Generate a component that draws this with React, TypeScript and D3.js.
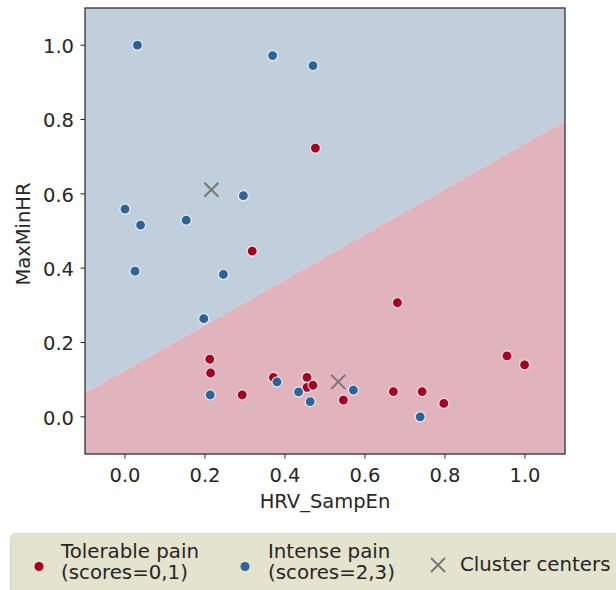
import React from "react";
import * as d3 from "d3";

// Tolerable pain (scores 0,1)
const TOLERABLE_X = [0.476, 0.318, 0.212, 0.214, 0.293, 0.371, 0.455, 0.455, 0.47, 0.546, 0.671, 0.743, 0.797, 0.681, 0.955, 0.999];
const TOLERABLE_Y = [0.723, 0.446, 0.155, 0.118, 0.059, 0.106, 0.106, 0.079, 0.085, 0.045, 0.068, 0.068, 0.036, 0.307, 0.164, 0.14];
// Intense pain (scores 2,3)
const INTENSE_X = [0.031, 0.369, 0.47, 0.296, 0.0, 0.039, 0.153, 0.025, 0.246, 0.197, 0.213, 0.38, 0.434, 0.463, 0.571, 0.738];
const INTENSE_Y = [1.0, 0.972, 0.945, 0.595, 0.559, 0.516, 0.529, 0.392, 0.383, 0.264, 0.059, 0.094, 0.067, 0.041, 0.072, 0.0];
// Cluster centers
const CENTER_X = [0.216, 0.533];
const CENTER_Y = [0.611, 0.094];
// Decision boundary endpoints (x, y) across the axis range
const BOUNDARY_X = [-0.1, 1.1];
const BOUNDARY_Y = [0.064, 0.796];

const X_TICKS = [0.0, 0.2, 0.4, 0.6, 0.8, 1.0];
const Y_TICKS = [0.0, 0.2, 0.4, 0.6, 0.8, 1.0];
const X_DOMAIN = [-0.1, 1.1];
const Y_DOMAIN = [-0.1, 1.1];

const RED = "#a50021";
const BLUE = "#2c6399";
const RED_BG = "#e1b3bc";
const BLUE_BG = "#c1cfdd";
const FONT = "'DejaVu Sans', sans-serif";

export default function App() {
  const W = 616;
  const H = 590;
  const left = 85, right = 565, top = 8, bottom = 454;
  const x = d3.scaleLinear().domain(X_DOMAIN).range([left, right]);
  const y = d3.scaleLinear().domain(Y_DOMAIN).range([bottom, top]);

  const bx0 = x(BOUNDARY_X[0]), by0 = y(BOUNDARY_Y[0]);
  const bx1 = x(BOUNDARY_X[1]), by1 = y(BOUNDARY_Y[1]);
  const upper = `M${left},${top}L${right},${top}L${bx1},${by1}L${bx0},${by0}Z`;
  const lower = `M${bx0},${by0}L${bx1},${by1}L${right},${bottom}L${left},${bottom}Z`;

  const fs = 19.5;
  const lfs = 19.8;
  const xs = 7;

  return (
    <div style={{ position: "absolute", left: 0, top: 0 }}>
      <svg width={W} height={H} style={{ display: "block" }} fontFamily={FONT}>
        <rect width={W} height={H} fill="#ffffff" />
        <path d={upper} fill={BLUE_BG} />
        <path d={lower} fill={RED_BG} />

        {TOLERABLE_X.map((v, i) => (
          <circle key={"t" + i} cx={x(v)} cy={y(TOLERABLE_Y[i])} r={5} fill={RED} stroke="#ffffff" strokeOpacity={0.8} strokeWidth={1.2} />
        ))}
        {INTENSE_X.map((v, i) => (
          <circle key={"n" + i} cx={x(v)} cy={y(INTENSE_Y[i])} r={5} fill={BLUE} stroke="#ffffff" strokeOpacity={0.8} strokeWidth={1.2} />
        ))}
        {CENTER_X.map((v, i) => {
          const cx = x(v), cy = y(CENTER_Y[i]);
          return (
            <path key={"c" + i} d={`M${cx - xs},${cy - xs}L${cx + xs},${cy + xs}M${cx - xs},${cy + xs}L${cx + xs},${cy - xs}`} stroke="#777777" strokeWidth={2} />
          );
        })}

        <rect x={left} y={top} width={right - left} height={bottom - top} fill="none" stroke="#222222" strokeWidth={1.2} />

        {X_TICKS.map((t) => (
          <g key={"xt" + t}>
            <line x1={x(t)} x2={x(t)} y1={bottom} y2={bottom + 4.5} stroke="#222" strokeWidth={1} />
            <text x={x(t)} y={bottom + 27.5} textAnchor="middle" fontSize={fs} fill="#262626">{t.toFixed(1)}</text>
          </g>
        ))}
        {Y_TICKS.map((t) => (
          <g key={"yt" + t}>
            <line x1={left - 4.5} x2={left} y1={y(t)} y2={y(t)} stroke="#222" strokeWidth={1} />
            <text x={left - 11} y={y(t)} dy="0.4em" textAnchor="end" fontSize={fs} fill="#262626">{t.toFixed(1)}</text>
          </g>
        ))}

        <text x={(left + right) / 2} y={bottom + 54} textAnchor="middle" fontSize={fs} fill="#262626">HRV_SampEn</text>
        <text transform={`translate(30,234) rotate(-90)`} textAnchor="middle" fontSize={fs} fill="#262626">MaxMinHR</text>

        <g>
          <rect x={10.5} y={533.5} width={640} height={80} rx={5} fill="#e4e3cd" stroke="#d6d6c4" strokeWidth={1} />
          <circle cx={39} cy={566.5} r={4.5} fill={RED} />
          <text x={61} y={557.5} fontSize={lfs} fill="#262626">Tolerable pain</text>
          <text x={61} y={578.5} fontSize={lfs} fill="#262626">(scores=0,1)</text>
          <circle cx={245} cy={566.5} r={4.5} fill={BLUE} />
          <text x={268} y={557.5} fontSize={lfs} fill="#262626">Intense pain</text>
          <text x={268} y={578.5} fontSize={lfs} fill="#262626">(scores=2,3)</text>
          <path d={`M${438 - xs},${565 - xs}L${438 + xs},${565 + xs}M${438 - xs},${565 + xs}L${438 + xs},${565 - xs}`} stroke="#777777" strokeWidth={2} />
          <text x={460} y={571} fontSize={lfs} fill="#262626">Cluster centers</text>
        </g>
      </svg>
    </div>
  );
}
